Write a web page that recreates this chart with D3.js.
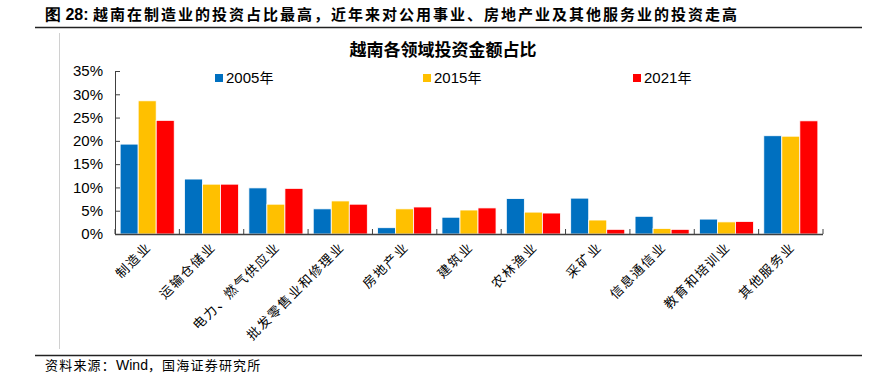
<!DOCTYPE html>
<html><head><meta charset="utf-8">
<script src="https://cdn.jsdelivr.net/npm/d3@7"></script>
<style>
body{margin:0;background:#fff;}
svg{display:block;}
</style></head>
<body>
<svg id="chart" width="878" height="376"></svg>
<script>
const categories = ["制造业","运输仓储业","电力、燃气供应业","批发零售业和修理业","房地产业","建筑业","农林渔业","采矿业","信息通信业","教育和培训业","其他服务业"];
const seriesNames = ["2005年","2015年","2021年"];
const v2005 = [19.3,11.8,9.9,5.4,1.35,3.6,7.6,7.7,3.8,3.2,21.1];
const v2015 = [28.6,10.7,6.4,7.1,5.4,5.15,4.7,3.0,1.2,2.6,21.0];
const v2021 = [24.4,10.7,9.8,6.4,5.8,5.6,4.5,1.0,1.0,2.7,24.3];
const yTicks = [0,5,10,15,20,25,30,35];
const colors = ["#0070C0","#FFC000","#FF0000"];

const series = [v2005, v2015, v2021];
const svg = d3.select("#chart");
const cjk = "'Noto Sans CJK SC', sans-serif";
const latin = "'Liberation Sans', Arial, sans-serif";

// header
const hdr = svg.append("text").attr("x",45).attr("y",20).attr("font-size",15).attr("font-weight","bold")
  .attr("font-family",cjk).attr("fill","#000");
hdr.append("tspan").attr("font-family",latin).attr("font-size",16).text("图 28: ");
hdr.append("tspan").attr("letter-spacing",2).text("越南在制造业的投资占比最高，近年来对公用事业、房地产业及其他服务业的投资走高");
svg.append("line").attr("x1",35).attr("x2",862).attr("y1",27.5).attr("y2",27.5).attr("stroke","#222").attr("stroke-width",1.5);
svg.append("line").attr("x1",59.5).attr("x2",59.5).attr("y1",33).attr("y2",349).attr("stroke","#d0d0d0").attr("stroke-width",1);
svg.append("line").attr("x1",35).attr("x2",862).attr("y1",355.5).attr("y2",355.5).attr("stroke","#222").attr("stroke-width",1.5);
const ft = svg.append("text").attr("x",45).attr("y",370).attr("font-size",13).attr("font-family",cjk).attr("fill","#000");
ft.append("tspan").attr("letter-spacing",1.2).text("资料来源：");
ft.append("tspan").attr("font-family",latin).attr("font-size",14).text("Wind");
ft.append("tspan").attr("letter-spacing",1.2).text("，国海证券研究所");

// chart title
svg.append("text").attr("x",443).attr("y",56).attr("text-anchor","middle").attr("font-size",17)
  .attr("font-weight","bold").attr("font-family",cjk).attr("fill","#000").text("越南各领域投资金额占比");

const x0 = d3.scaleBand().domain(categories).range([115,823]).paddingInner(0.16).paddingOuter(0.08);
const x1 = d3.scaleBand().domain(seriesNames).range([0,x0.bandwidth()]);
const y = d3.scaleLinear().domain([0,35]).range([234,71]);

// bars
const g = svg.append("g");
categories.forEach((c,i)=>{
  seriesNames.forEach((s,j)=>{
    const v = series[j][i];
    g.append("rect").attr("x",x0(c)+x1(s)).attr("y",y(v)).attr("width",x1.bandwidth())
      .attr("height",y(0)-y(v)).attr("fill",colors[j]).attr("stroke","#fff").attr("stroke-width",0.8);
  });
});

// y axis
const yAxis = svg.append("g").attr("transform","translate(115,0)")
  .call(d3.axisRight(y).tickValues(yTicks).tickSize(5).tickFormat(d=>d+"%"));
yAxis.select(".domain").attr("stroke","#404040");
yAxis.selectAll(".tick line").attr("stroke","#404040");
yAxis.selectAll(".tick text").attr("x",-12).attr("text-anchor","end").attr("font-size",15)
  .attr("font-family",latin).attr("fill","#000");

// x axis
const xAx = svg.append("g");
xAx.append("line").attr("x1",115).attr("x2",823).attr("y1",234.5).attr("y2",234.5).attr("stroke","#404040").attr("stroke-width",1.5);
const step = x0.step();
d3.range(categories.length+1).forEach(k=>{
  const xx = 115 + k*step;
  xAx.append("line").attr("x1",xx).attr("x2",xx).attr("y1",234).attr("y2",229).attr("stroke","#404040");
});
categories.forEach(c=>{
  const cx = x0(c)+x0.bandwidth()/2+5;
  xAx.append("text").attr("transform",`translate(${cx},248) rotate(-45)`).attr("text-anchor","end")
    .attr("font-size",13).attr("letter-spacing",1.6).attr("font-family",cjk).attr("fill","#000").text(c);
});

// legend
const legX = [211,419,629];
seriesNames.forEach((s,j)=>{
  svg.append("rect").attr("x",legX[j]+4).attr("y",74).attr("width",8).attr("height",8).attr("fill",colors[j]);
  const t = svg.append("text").attr("x",legX[j]+15).attr("y",83).attr("font-size",15).attr("font-family",latin).attr("fill","#000");
  t.append("tspan").text(s.slice(0,4));
  t.append("tspan").attr("font-family",cjk).attr("font-size",14).text(s.slice(4));
});
</script>
</body></html>
